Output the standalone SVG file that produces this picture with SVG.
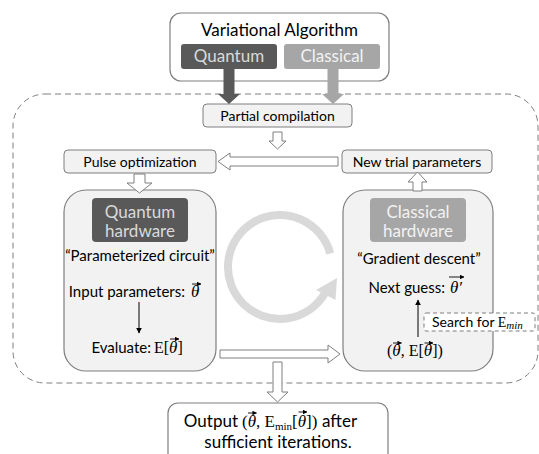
<svg xmlns="http://www.w3.org/2000/svg" width="539" height="454" viewBox="0 0 539 454">
  <style>
    text { font-family: Lato, "Liberation Sans", sans-serif; fill: #000; }
    .box { fill: #f2f2f2; stroke: #7f7f7f; stroke-width: 1; }
    .hw { fill: #f2f2f2; stroke: #7f7f7f; stroke-width: 1.2; }
    .hollow { fill: #fff; stroke: #7f7f7f; stroke-width: 1; }
    .m { font-family: "Liberation Serif", "DejaVu Serif", serif; font-size: 16px; }
    .th { font-family: "Liberation Serif", "DejaVu Serif", serif; font-style: italic; font-size: 17px; }
    .lbl { font-size: 14px; }
    .t15 { font-size: 15px; }
    .t17 { font-size: 17px; }
    .vec { stroke: #000; stroke-width: 0.9; marker-end: url(#vec); }
  </style>
  <defs>
    <marker id="tip" viewBox="0 0 10 10" refX="9" refY="5" markerWidth="6" markerHeight="6" orient="auto">
      <path d="M0,0 L10,5 L0,10 z" fill="#000"/>
    </marker>
    <marker id="vec" viewBox="0 0 10 10" refX="9" refY="5" markerWidth="4.5" markerHeight="4.5" markerUnits="userSpaceOnUse" orient="auto">
      <path d="M0,0 L10,5 L0,10 z" fill="#000"/>
    </marker>
  </defs>

  <!-- iteration loop frame -->
  <rect id="loop-frame" x="13" y="94" width="525" height="289" rx="32" fill="none" stroke="#7f7f7f" stroke-dasharray="6,4"/>

  <!-- circular iteration symbol -->
  <g id="cycle">
    <path d="M330.2,253.5 A52,52 0 1 0 325,293" fill="none" stroke="#d9d9d9" stroke-width="8"/>
    <polygon points="337,278 335.5,300 316,290" fill="#d9d9d9"/>
  </g>

  <g id="variational-algorithm">
    <rect x="170" y="13" width="219" height="68" rx="11" fill="#fff" stroke="#7f7f7f" stroke-width="1.2"/>
    <text x="279.5" y="35.5" text-anchor="middle" class="t17">Variational Algorithm</text>
    <g id="quantum-tag">
      <rect x="181" y="44" width="96" height="25" rx="3" fill="#595959"/>
      <text x="229" y="62" text-anchor="middle" class="t17" style="fill:#d9d9d9">Quantum</text>
    </g>
    <g id="classical-tag">
      <rect x="284" y="44" width="96" height="25" rx="3" fill="#a6a6a6"/>
      <text x="332" y="62" text-anchor="middle" class="t17" style="fill:#f2f2f2">Classical</text>
    </g>
  </g>

  <g id="partial-compilation">
    <rect class="box" x="203" y="104" width="149" height="23" rx="4"/>
    <text x="277.5" y="120.5" text-anchor="middle" class="lbl">Partial compilation</text>
  </g>

  <g id="pulse-optimization">
    <rect class="box" x="64" y="150" width="152" height="23" rx="4"/>
    <text x="140" y="166.5" text-anchor="middle" class="lbl">Pulse optimization</text>
  </g>

  <g id="new-trial-parameters">
    <rect class="box" x="342" y="150" width="150" height="23" rx="4"/>
    <text x="417" y="166.5" text-anchor="middle" class="lbl">New trial parameters</text>
  </g>

  <g id="quantum-hardware">
    <rect class="hw" x="64" y="190" width="152" height="181" rx="22"/>
    <rect x="92" y="198" width="96" height="44" rx="4" fill="#595959"/>
    <text x="140" y="218" text-anchor="middle" class="t17" style="fill:#d9d9d9">Quantum</text>
    <text x="140" y="237" text-anchor="middle" class="t17" style="fill:#d9d9d9">hardware</text>
    <text x="140" y="261" text-anchor="middle" class="t15">“Parameterized circuit”</text>
    <text x="185" y="297" text-anchor="end" class="t15">Input parameters:</text>
    <text x="191" y="297" class="th">θ</text>
    <line class="vec" x1="192" y1="284" x2="201" y2="284"/>
    <line x1="139" y1="302" x2="139" y2="333" stroke="#000" stroke-width="1" marker-end="url(#tip)"/>
    <text x="151" y="353" text-anchor="end" class="t15">Evaluate:</text>
    <text x="154" y="353" class="m">E[<tspan class="th">θ</tspan>]</text>
    <line class="vec" x1="170" y1="339" x2="179" y2="339"/>
  </g>

  <g id="classical-hardware">
    <rect class="hw" x="343" y="190" width="150" height="181" rx="22"/>
    <rect x="370" y="198" width="96" height="44" rx="4" fill="#a6a6a6"/>
    <text x="418" y="218" text-anchor="middle" class="t17" style="fill:#f2f2f2">Classical</text>
    <text x="418" y="237" text-anchor="middle" class="t17" style="fill:#f2f2f2">hardware</text>
    <text x="419" y="264" text-anchor="middle" class="t15">“Gradient descent”</text>
    <text x="445" y="293" text-anchor="end" class="t15">Next guess:</text>
    <text x="450" y="293" class="th">θ′</text>
    <line class="vec" x1="449" y1="277" x2="464" y2="277"/>
    <line x1="418" y1="337" x2="418" y2="300" stroke="#000" stroke-width="1" marker-end="url(#tip)"/>
    <text x="387" y="356" class="m">(<tspan class="th">θ</tspan>, E[<tspan class="th">θ</tspan>])</text>
    <line class="vec" x1="393" y1="343" x2="401.5" y2="343"/>
    <line class="vec" x1="424.5" y1="343" x2="433" y2="343"/>
  </g>

  <g id="search-emin">
    <rect x="424" y="313" width="111" height="18" rx="2" fill="#fff" stroke="#7f7f7f" stroke-dasharray="4,3"/>
    <text x="432" y="327" style="font-size:14px">Search for <tspan class="m" style="font-size:14px">E</tspan><tspan class="m" style="font-style:italic;font-size:11px" dy="2">min</tspan></text>
  </g>

  <g id="output">
    <rect x="168" y="403" width="220" height="60" rx="10" fill="#fff" stroke="#7f7f7f" stroke-width="1.2"/>
    <text x="238" y="427" text-anchor="end" class="t17">Output</text>
    <text x="242" y="427" class="m" style="font-size:17px">(<tspan class="th">θ</tspan>, E<tspan style="font-size:11px" dy="2.5">min</tspan><tspan dy="-2.5">[</tspan><tspan class="th">θ</tspan>])</text>
    <text x="322" y="427" class="t17">after</text>
    <line class="vec" x1="248" y1="413" x2="256.5" y2="413"/>
    <line class="vec" x1="298.5" y1="412" x2="307" y2="412"/>
    <text x="278" y="448" text-anchor="middle" class="t17">sufficient iterations.</text>
  </g>

  <g id="connectors">
    <!-- solid feed arrows from the algorithm parts -->
    <polygon points="223.5,69 234.5,69 234.5,94 240,94 229,104 218,94 223.5,94" fill="#595959"/>
    <polygon points="327.5,69 338.5,69 338.5,94 344,94 333,104 322,94 327.5,94" fill="#a6a6a6"/>
    <!-- hollow flow arrows -->
    <polygon class="hollow" points="273,132 282,132 282,141 286,141 277.5,149 269,141 273,141"/>
    <polygon class="hollow" points="338,157 230,157 230,153 218,161.5 230,170 230,166 338,166"/>
    <polygon class="hollow" points="134,174 145,174 145,183 152,183 139.5,193 127,183 134,183"/>
    <polygon class="hollow" points="413,191 422,191 422,182 427,182 417.5,172 408,182 413,182"/>
    <polygon class="hollow" points="220,350 328,350 328,345 340,354 328,363 328,358 220,358"/>
    <polygon class="hollow" points="273,362 282,362 282,392 288,392 277.5,402 267,392 273,392"/>
  </g>
</svg>
